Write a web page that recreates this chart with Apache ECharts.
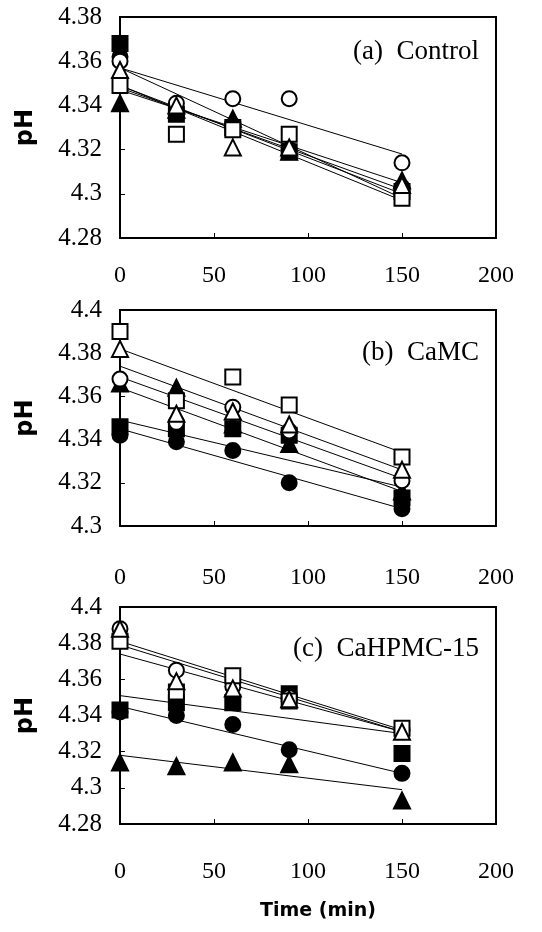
<!DOCTYPE html>
<html>
<head>
<meta charset="utf-8">
<script src="https://cdn.jsdelivr.net/npm/echarts@6/dist/echarts.min.js"></script>
<style>
  html, body { margin: 0; padding: 0; background: #fff; }
  #chart { width: 542px; height: 932px; }
</style>
</head>
<body>
<div id="chart"></div>
<script>
// sampling times (min)
const times = [0, 30, 60, 90, 150];
const xTicks = [0, 50, 100, 150, 200];

// marker order used in every panel
const markerKinds = ['openCircle', 'filledCircle', 'openSquare', 'filledSquare', 'openTriangle', 'filledTriangle'];

// (a) Control
const openCircleA = [4.360, 4.341, 4.343, 4.343, 4.314];
const filledCircleA = [4.362, 4.337, 4.331, 4.320, 4.303];
const openSquareA = [4.349, 4.327, 4.329, 4.327, 4.298];
const filledSquareA = [4.368, 4.336, 4.330, 4.319, 4.301];
const openTriangleA = [4.356, 4.340, 4.321, 4.321, 4.304];
const filledTriangleA = [4.341, 4.338, 4.334, 4.319, 4.306];
const fitStartA = [4.357, 4.348, 4.349, 4.357, 4.347, 4.349];
const fitEndA = [4.318, 4.302, 4.297, 4.298, 4.305, 4.300];

// (b) CaMC
const openCircleB = [4.368, 4.348, 4.355, 4.344, 4.321];
const filledCircleB = [4.342, 4.339, 4.335, 4.320, 4.308];
const openSquareB = [4.390, 4.358, 4.369, 4.356, 4.332];
const filledSquareB = [4.346, 4.345, 4.345, 4.342, 4.313];
const openTriangleB = [4.382, 4.352, 4.353, 4.347, 4.326];
const filledTriangleB = [4.366, 4.364, 4.347, 4.338, 4.316];
const fitStartB = [4.369, 4.345, 4.382, 4.349, 4.374, 4.364];
const fitEndB = [4.322, 4.308, 4.334, 4.318, 4.326, 4.316];

// (c) CaHPMC-15
const openCircleC = [4.388, 4.365, 4.356, 4.350, 4.332];
const filledCircleC = [4.342, 4.340, 4.335, 4.321, 4.308];
const openSquareC = [4.381, 4.353, 4.362, 4.348, 4.333];
const filledSquareC = [4.343, 4.347, 4.347, 4.352, 4.319];
const openTriangleC = [4.388, 4.359, 4.355, 4.349, 4.331];
const filledTriangleC = [4.314, 4.312, 4.314, 4.313, 4.293];
const fitStartC = [4.379, 4.345, 4.381, 4.351, 4.374, 4.318];
const fitEndC = [4.331, 4.308, 4.332, 4.330, 4.331, 4.299];

const panelTitles = ['(a)  Control', '(b)  CaMC', '(c)  CaHPMC-15'];
const yMins = [4.28, 4.30, 4.28];
const yMaxs = [4.38, 4.40, 4.40];
const yStep = 0.02;

const panelValues = [
    [openCircleA, filledCircleA, openSquareA, filledSquareA, openTriangleA, filledTriangleA],
    [openCircleB, filledCircleB, openSquareB, filledSquareB, openTriangleB, filledTriangleB],
    [openCircleC, filledCircleC, openSquareC, filledSquareC, openTriangleC, filledTriangleC],
];
const panelFits = [[fitStartA, fitEndA], [fitStartB, fitEndB], [fitStartC, fitEndC]];

// layout of the three boxes
const gridTops = [17, 310, 607];
const gridHeights = [221, 216, 217];
const labelMargins = [26, 40, 36];
const titleTops = [33, 334, 630];

const serif = "'Liberation Serif', 'Times New Roman', serif";

const symbolFor = {
    openCircle: { symbol: 'circle', size: 15, fill: '#fff' },
    filledCircle: { symbol: 'circle', size: 15, fill: '#000' },
    openSquare: { symbol: 'rect', size: 15, fill: '#fff' },
    filledSquare: { symbol: 'rect', size: 15, fill: '#000' },
    openTriangle: { symbol: 'triangle', size: 16, fill: '#fff' },
    filledTriangle: { symbol: 'triangle', size: 16, fill: '#000' },
};

const chart = echarts.init(document.getElementById('chart'));

const grids = [];
const xAxes = [];
const yAxes = [];
const titles = [];
const series = [];

for (let p = 0; p < 3; p++) {
    grids.push({
        left: 120,
        right: 46,
        top: gridTops[p],
        height: gridHeights[p],
        show: true,
        borderColor: '#000',
        borderWidth: 2,
        backgroundColor: 'transparent',
    });
    xAxes.push({
        gridIndex: p,
        type: 'value',
        min: xTicks[0],
        max: xTicks[xTicks.length - 1],
        interval: 50,
        axisLine: { lineStyle: { color: '#000', width: 2 } },
        axisTick: { inside: true, length: 5, lineStyle: { color: '#000' } },
        axisLabel: { color: '#000', fontFamily: serif, fontSize: 24, margin: labelMargins[p] },
        splitLine: { show: false },
        name: p === 2 ? 'Time (min)' : '',
        nameLocation: 'middle',
        nameGap: 78,
        nameTextStyle: { color: '#000', fontFamily: 'DejaVu Sans', fontWeight: 'bold', fontSize: 19, padding: [0, 0, 0, 20] },
    });
    yAxes.push({
        gridIndex: p,
        type: 'value',
        min: yMins[p],
        max: yMaxs[p],
        interval: yStep,
        axisLine: { lineStyle: { color: '#000', width: 2 } },
        axisTick: { inside: true, length: 5, lineStyle: { color: '#000' } },
        axisLabel: {
            color: '#000',
            fontFamily: serif,
            fontSize: 25,
            margin: 18,
            formatter: (v) => String(Math.round(v * 100) / 100),
        },
        splitLine: { show: false },
        name: 'pH',
        nameLocation: 'middle',
        nameRotate: 90,
        nameGap: 82,
        nameTextStyle: { color: '#000', fontFamily: 'DejaVu Sans', fontWeight: 'bold', fontSize: 24 },
    });
    titles.push({
        text: panelTitles[p],
        right: 58,
        top: titleTops[p],
        textStyle: { color: '#000', fontFamily: serif, fontWeight: 'normal', fontSize: 27 },
    });

    // fitted lines
    const [starts, ends] = panelFits[p];
    starts.forEach((s, i) => {
        series.push({
            type: 'line',
            xAxisIndex: p,
            yAxisIndex: p,
            data: [[times[0], s], [times[times.length - 1], ends[i]]],
            symbol: 'none',
            silent: true,
            z: 2,
            lineStyle: { color: '#000', width: 1 },
        });
    });

    // measured points
    panelValues[p].forEach((vals, i) => {
        const kind = symbolFor[markerKinds[i]];
        series.push({
            type: 'scatter',
            name: markerKinds[i],
            xAxisIndex: p,
            yAxisIndex: p,
            data: vals.map((v, k) => [times[k], v]),
            symbol: kind.symbol,
            symbolSize: kind.size,
            z: kind.fill === '#fff' ? 4 : 3,
            itemStyle: { color: kind.fill, borderColor: '#000', borderWidth: 2, opacity: 1 },
        });
    });
}

chart.setOption({
    animation: false,
    backgroundColor: '#fff',
    textStyle: { fontFamily: serif },
    title: titles,
    grid: grids,
    xAxis: xAxes,
    yAxis: yAxes,
    series: series,
});
</script>
</body>
</html>
